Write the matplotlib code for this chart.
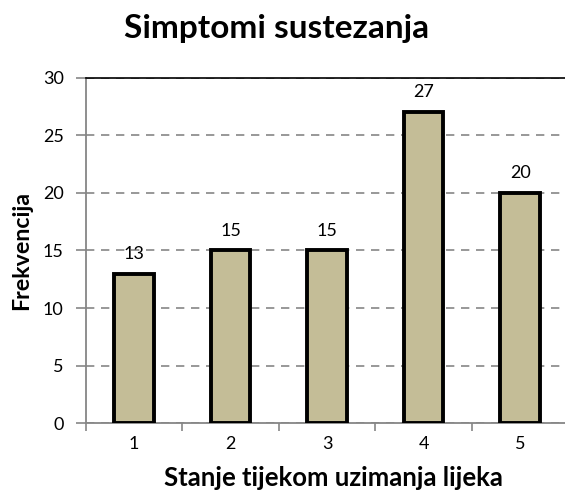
import matplotlib
matplotlib.use("Agg")
import matplotlib.pyplot as plt

categories = ["1", "2", "3", "4", "5"]
values = [13, 15, 15, 27, 20]

plt.rcParams['font.family'] = ['Lato', 'DejaVu Sans']

fig = plt.figure(figsize=(5.65, 4.99), dpi=100)
# plot area runs slightly past the right edge of the picture, as in the original
ax = fig.add_axes([0.152, 0.152, 0.854, 0.692])

x = range(len(categories))
ax.bar(x, values, width=0.41, color="#c4bd97", edgecolor="black", linewidth=2.8, zorder=3)
for xi, v in zip(x, values):
    ax.text(xi, v + 1.3, str(v), ha="center", va="baseline", fontsize=13, zorder=4)

ax.set_xlim(-0.5, len(categories) - 0.5)
ax.set_ylim(0, 30)
ax.set_yticks(range(0, 31, 5))
ax.set_xticks([i + 0.5 for i in range(-1, len(categories))], minor=False)
ax.set_xticklabels([])
ax.set_xticks(list(x), minor=True)
ax.set_xticklabels(categories, minor=True)
ax.tick_params(axis="x", which="minor", length=0, pad=9, labelsize=13)
ax.tick_params(axis="x", which="major", direction="out", length=6, color="#868686", width=1.2)
ax.tick_params(axis="y", direction="out", length=7, color="#868686", width=1.2,
               labelsize=13, pad=9)

ax.yaxis.grid(True, linestyle=(0, (5, 4)), color="#868686", linewidth=1.2, zorder=0)
for s in ["left", "bottom"]:
    ax.spines[s].set_color("#868686")
    ax.spines[s].set_linewidth(1.3)
ax.spines["right"].set_visible(False)
ax.spines["top"].set_color("black")
ax.spines["top"].set_linewidth(1.2)

ax.set_xlabel("Stanje tijekom uzimanja lijeka", fontsize=18.5, fontweight="bold")
ax.xaxis.set_label_coords(0.514, -0.125)
ax.set_ylabel("Frekvencija", fontsize=16.7, fontweight="bold")
ax.yaxis.set_label_coords(-0.112, 0.5)
fig.text(0.49, 0.924, "Simptomi sustezanja", fontsize=24, fontweight="bold",
         ha="center", va="baseline")

fig.savefig("out.png", dpi=100)
